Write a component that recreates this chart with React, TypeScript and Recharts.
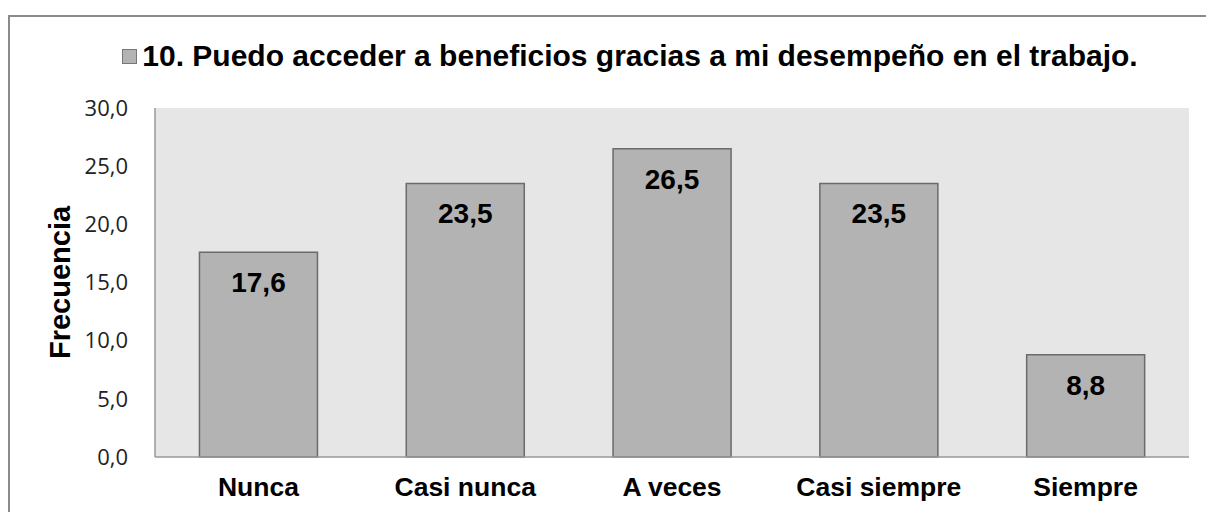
import { BarChart, Bar, XAxis, YAxis, CartesianGrid, LabelList, Legend } from "recharts"

const CATEGORIES = ["Nunca", "Casi nunca", "A veces", "Casi siempre", "Siempre"]
const FRECUENCIA = [17.6, 23.5, 26.5, 23.5, 8.8]
const Y_TICKS = [0, 5, 10, 15, 20, 25, 30]
const SERIES_NAME = "10. Puedo acceder a beneficios gracias a mi desempeño en el trabajo."

const data = CATEGORIES.map((name, i) => ({ name, value: FRECUENCIA[i] }))

const fmt = (v: number) => v.toFixed(1).replace(".", ",")

const BAR_FILL = "#b3b3b3"
const BAR_STROKE = "#6b6b6b"
const BOLD = "'Liberation Sans', Arial, sans-serif"

function TitleLegend() {
  return (
    <div
      style={{
        display: "flex",
        alignItems: "center",
        justifyContent: "center",
        paddingLeft: 46,
        fontFamily: BOLD,
        fontWeight: 700,
        fontSize: 30,
        color: "#000",
        lineHeight: "32px",
      }}
    >
      <span
        style={{
          display: "inline-block",
          width: 13,
          height: 13,
          background: BAR_FILL,
          border: "1px solid #777",
          marginRight: 5,
        }}
      />
      <span>{SERIES_NAME}</span>
    </div>
  )
}

function YTitle(props: any) {
  const vb = props.viewBox || {}
  const cx = 52
  const cy = vb.y + vb.height / 2
  return (
    <text
      x={cx}
      y={cy}
      transform={`rotate(-90 ${cx} ${cy})`}
      textAnchor="middle"
      dominantBaseline="central"
      fontFamily={BOLD}
      fontWeight={700}
      fontSize={29}
      fill="#000"
    >
      Frecuencia
    </text>
  )
}

export default function App() {
  return (
    <>
      <style>{`html, body { margin: 0; overflow: hidden; background: #fff; }`}</style>
      <div
        style={{
          position: "absolute",
          left: 8,
          top: 15,
          width: 1198,
          height: 497,
          overflow: "hidden",
          background: "#fff",
        }}
      >
        <BarChart
          width={1198}
          height={497}
          data={data}
          margin={{ top: 61, right: 17, left: 0, bottom: 0 }}
          barCategoryGap="21.5%"
        >
          <CartesianGrid horizontal={false} vertical={false} fill="#e6e6e6" />
          <Legend
            verticalAlign="top"
            content={() => <TitleLegend />}
            wrapperStyle={{ top: 25, left: 0, width: 1198 }}
          />
          <XAxis
            dataKey="name"
            height={55}
            axisLine={{ stroke: "#999", strokeWidth: 1.5 }}
            tickLine={false}
            tickMargin={14}
            tick={{ fontFamily: BOLD, fontWeight: 700, fontSize: 26.5, fill: "#000" }}
          />
          <YAxis
            width={147}
            domain={[0, 30]}
            ticks={Y_TICKS}
            interval={0}
            tickFormatter={fmt}
            axisLine={{ stroke: "#999", strokeWidth: 1.5 }}
            tickLine={false}
            tickMargin={21}
            tick={{ fontFamily: "'Open Sans', sans-serif", fontSize: 22, fill: "#222" }}
            label={<YTitle />}
          />
          <Bar
            dataKey="value"
            name={SERIES_NAME}
            fill={BAR_FILL}
            stroke={BAR_STROKE}
            strokeWidth={1.5}
            isAnimationActive={false}
          >
            <LabelList
              dataKey="value"
              position="insideTop"
              offset={20}
              formatter={(v: any) => fmt(Number(v))}
              style={{ fontFamily: BOLD, fontWeight: 700, fontSize: 28, fill: "#000" }}
            />
          </Bar>
        </BarChart>
        <div
          style={{
            position: "absolute",
            left: 0,
            top: 0,
            right: 0,
            bottom: 0,
            borderTop: "2px solid #8a8a8a",
            borderLeft: "2px solid #8a8a8a",
            pointerEvents: "none",
          }}
        />
      </div>
    </>
  )
}
